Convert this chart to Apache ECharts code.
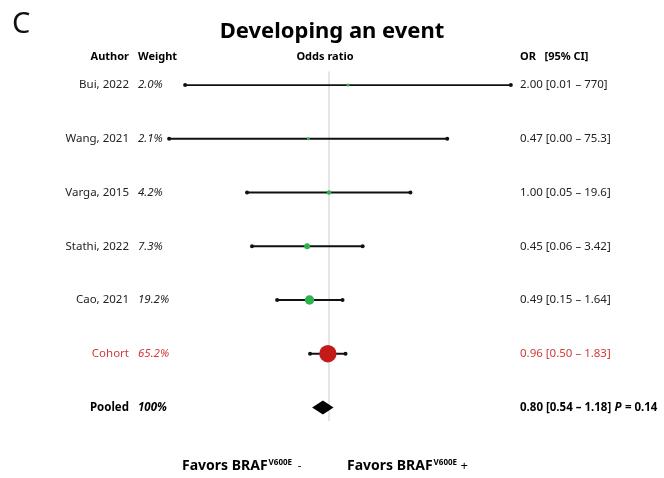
<!DOCTYPE html>
<html>
<head>
<meta charset="utf-8">
<script src="https://cdn.jsdelivr.net/npm/echarts@6/dist/echarts.min.js"></script>
<style>
  html, body { margin: 0; padding: 0; background: #fff; }
  #main { width: 664px; height: 478px; }
</style>
</head>
<body>
<div id="main"></div>
<script>
// data
const authors = ['Bui, 2022', 'Wang, 2021', 'Varga, 2015', 'Stathi, 2022', 'Cao, 2021', 'Cohort', 'Pooled'];
const weights = [2.0, 2.1, 4.2, 7.3, 19.2, 65.2, 100];
const weightLabels = ['2.0%', '2.1%', '4.2%', '7.3%', '19.2%', '65.2%', '100%'];
const oddsRatios = [2.00, 0.47, 1.00, 0.45, 0.49, 0.96, 0.80];
const ciLower = [0.0052, 0.0029, 0.05, 0.06, 0.15, 0.50, 0.54];
const ciUpper = [770, 75.3, 19.6, 3.42, 1.64, 1.83, 1.18];
const ciLabels = [
  '2.00 [0.01 – 770]',
  '0.47 [0.00 – 75.3]',
  '1.00 [0.05 – 19.6]',
  '0.45 [0.06 – 3.42]',
  '0.49 [0.15 – 1.64]',
  '0.96 [0.50 – 1.83]',
  '0.80 [0.54 – 1.18]'
];
const pooledP = '0.14';

const FONT = '"Noto Sans", "Open Sans", sans-serif';
const GREEN = '#2eb24e';
const RED = '#c41a1a';
const RED_TEXT = '#d23a3a';
const POOLED = authors.length - 1;
const COHORT = authors.indexOf('Cohort');

const chart = echarts.init(document.getElementById('main'));

// studies only (pooled row is drawn as a diamond)
const studyRows = authors.slice(0, POOLED).map((a, i) => i);

// "Favors BRAF^V600E" rich text styles
const favorsRich = {
  b: { fontFamily: FONT, fontSize: 14, fontWeight: 'bold', color: '#000', lineHeight: 20 },
  s: { fontFamily: FONT, fontSize: 8, fontWeight: 'bold', color: '#000', verticalAlign: 'top', lineHeight: 12, padding: [3, 0, 0, 1] },
  m: { fontFamily: FONT, fontSize: 11, color: '#000', lineHeight: 20 },
  p: { fontFamily: FONT, fontSize: 13, color: '#000', lineHeight: 20 }
};

const option = {
  animation: false,
  grid: { left: 140, right: 146, top: 71.6, bottom: 57.1 },
  xAxis: {
    type: 'log', logBase: 10, min: 0.001, max: 1000,
    axisLine: { show: false }, axisTick: { show: false },
    axisLabel: { show: false }, splitLine: { show: false }
  },
  yAxis: {
    type: 'value', min: -0.25, max: 6.25, inverse: true,
    axisLine: { show: false }, axisTick: { show: false },
    axisLabel: { show: false }, splitLine: { show: false }
  },
  title: {
    text: 'Developing an event',
    left: 'center',
    top: 16,
    textStyle: { fontFamily: FONT, fontSize: 22, fontWeight: 'bold', color: '#000' }
  },
  graphic: [
    { type: 'text', left: 12, top: 10,
      style: { text: 'C', font: '29px ' + FONT, fill: '#111' } },
    { type: 'text', x: 129, y: 57,
      style: { text: 'Author', align: 'right', verticalAlign: 'middle', font: 'bold 11px ' + FONT, fill: '#000' } },
    { type: 'text', x: 138, y: 57,
      style: { text: 'Weight', align: 'left', verticalAlign: 'middle', font: 'bold 11px ' + FONT, fill: '#000' } },
    { type: 'text', x: 325, y: 57,
      style: { text: 'Odds ratio', align: 'center', verticalAlign: 'middle', font: 'bold 11px ' + FONT, fill: '#000' } },
    { type: 'text', x: 520, y: 57,
      style: { text: 'OR   [95% CI]', align: 'left', verticalAlign: 'middle', font: 'bold 11px ' + FONT, fill: '#000' } },
    { type: 'text', x: 182, y: 466,
      style: { text: '{b|Favors BRAF}{s|V600E}{m|  -}', verticalAlign: 'middle', rich: favorsRich } },
    { type: 'text', x: 347, y: 466,
      style: { text: '{b|Favors BRAF}{s|V600E}{p| +}', verticalAlign: 'middle', rich: favorsRich } }
  ],
  series: [
    // confidence interval whiskers
    {
      type: 'custom',
      z: 3,
      data: studyRows.map(i => [ciLower[i], ciUpper[i], i]),
      renderItem: function (params, api) {
        const row = api.value(2);
        const p0 = api.coord([api.value(0), row]);
        const p1 = api.coord([api.value(1), row]);
        const c = '#111';
        return {
          type: 'group',
          children: [
            { type: 'line', shape: { x1: p0[0], y1: p0[1], x2: p1[0], y2: p1[1] },
              style: { stroke: c, lineWidth: 1.8 } },
            { type: 'circle', shape: { cx: p0[0], cy: p0[1], r: 2 }, style: { fill: c } },
            { type: 'circle', shape: { cx: p1[0], cy: p1[1], r: 2 }, style: { fill: c } }
          ]
        };
      }
    },
    // point estimates, sized by weight
    {
      type: 'scatter',
      z: 4,
      symbol: 'circle',
      data: studyRows.map(i => ({
        value: [oddsRatios[i], i],
        symbolSize: Math.max(2.5, 2.15 * Math.sqrt(weights[i])),
        itemStyle: { color: i === COHORT ? RED : GREEN, opacity: 1 }
      })),
      markLine: {
        silent: true,
        symbol: 'none',
        label: { show: false },
        lineStyle: { color: '#dddddd', width: 1.5, type: 'solid' },
        data: [{ xAxis: 1 }],
        z: 1
      }
    },
    // pooled diamond
    {
      type: 'custom',
      z: 4,
      data: [[ciLower[POOLED], oddsRatios[POOLED], ciUpper[POOLED], POOLED]],
      renderItem: function (params, api) {
        const row = api.value(3);
        const l = api.coord([api.value(0), row]);
        const m = api.coord([api.value(1), row]);
        const r = api.coord([api.value(2), row]);
        return {
          type: 'polygon',
          shape: { points: [[l[0], l[1]], [m[0], m[1] - 7], [r[0], r[1]], [m[0], m[1] + 7]] },
          style: { fill: '#000' }
        };
      }
    },
    // row text: author, weight, OR [95% CI]
    {
      type: 'custom',
      z: 5,
      data: authors.map((a, i) => [1, i]),
      renderItem: function (params, api) {
        const i = params.dataIndex;
        const y = api.coord([1, api.value(1)])[1];
        const isPooled = i === POOLED;
        const color = i === COHORT ? RED_TEXT : (isPooled ? '#000' : '#222');
        const weight = isPooled ? 'bold ' : '';
        const ciStyle = isPooled
          ? { text: '{b|' + ciLabels[i] + '} {i|P} {b|= ' + pooledP + '}',
              rich: {
                b: { fontFamily: FONT, fontSize: 11.5, fontWeight: 'bold', color: '#000' },
                i: { fontFamily: FONT, fontSize: 11.5, fontWeight: 'bold', fontStyle: 'italic', color: '#000' }
              } }
          : { text: ciLabels[i], font: '11.5px ' + FONT, fill: color };
        return {
          type: 'group',
          children: [
            { type: 'text', x: 129, y: y,
              style: { text: authors[i], align: 'right', verticalAlign: 'middle', font: weight + '11.5px ' + FONT, fill: color } },
            { type: 'text', x: 138, y: y,
              style: { text: weightLabels[i], align: 'left', verticalAlign: 'middle', font: 'italic ' + weight + '11.5px ' + FONT, fill: color } },
            { type: 'text', x: 520, y: y,
              style: Object.assign({ align: 'left', verticalAlign: 'middle' }, ciStyle) }
          ]
        };
      }
    }
  ]
};

chart.setOption(option);
</script>
</body>
</html>
